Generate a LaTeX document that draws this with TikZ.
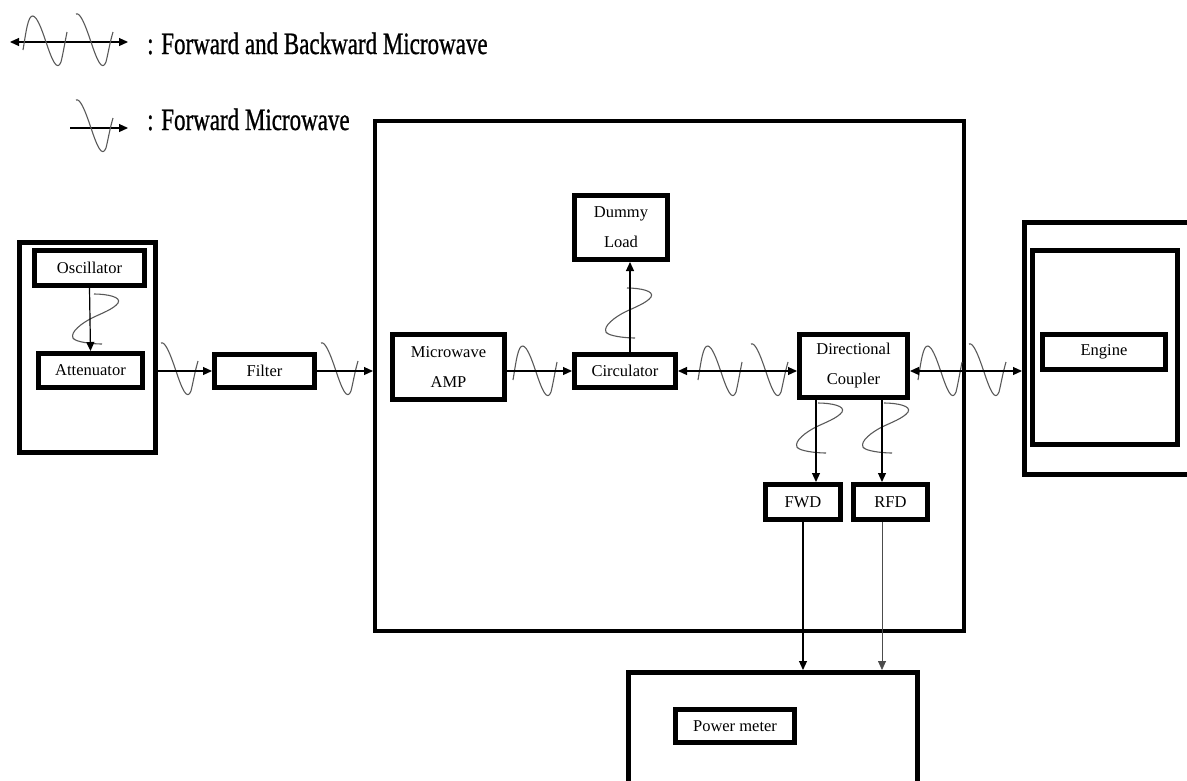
\documentclass[tikz,border=0pt]{standalone}
\usepackage{fontspec}
\setmainfont{Liberation Serif}
\newfontfamily\legfont[FakeBold=1]{Liberation Serif}
\usetikzlibrary{arrows.meta}
\begin{document}
\begin{tikzpicture}[x=1pt,y=-1pt,
  box/.style={draw,line width=5pt,rectangle,inner sep=0pt,fill=white,
    font=\fontsize{16.5}{30}\selectfont,align=center},
  bigbox/.style={draw,line width=5pt,rectangle,inner sep=0pt},
  legtext/.style={anchor=base west,inner sep=0pt,font=\legfont\fontsize{23}{26}\selectfont},
  arr/.style={line width=1.2pt,-{Triangle[length=9pt,width=8pt]}},
  thinarr/.style={line width=0.8pt,draw=black!70,-{Triangle[length=9pt,width=8pt]}},
  dbl/.style={line width=1.2pt,{Triangle[length=9pt,width=8pt]}-{Triangle[length=9pt,width=8pt]}},
  wave/.style={draw=black!65,line width=1.1pt},
  hw/.pic={\draw[wave] (-9,8) .. controls (-6,-10) and (-4,-27) .. (1,-26)
    .. controls (5,-25) and (9,-15) .. (14,0) .. controls (20,18) and (25,30) .. (29,20)
    .. controls (31,12) and (33,0) .. (35,-10);},
  hwp/.pic={\draw[wave] (0,-28) .. controls (4,-30) and (9,-18) .. (15,0)
    .. controls (21,18) and (26,30) .. (30,20) .. controls (32,12) and (34,0) .. (37,-10);},
  vw/.pic={\draw[wave] (2,0) .. controls (15,0) and (30,3) .. (26,9)
    .. controls (22,15) and (8,20) .. (0,24) .. controls (-10,29) and (-22,38) .. (-19,44)
    .. controls (-17,48) and (0,50) .. (10,50);}
]
\useasboundingbox (0,0) rectangle (1187,780);
\clip (0,0) rectangle (1187,780);

% ---------- legend ----------
\coordinate (la) at (10,42);
\coordinate (lb) at (128,42);
\coordinate (lc) at (70,128);
\coordinate (ld) at (128,128);
\draw[dbl] (la) -- (lb);
\pic at (32,42) {hw};
\pic at (76,42) {hwp};
\draw[arr] (lc) -- (ld);
\pic at (76,128) {hwp};
\node[legtext] (leg1) at (147,54) {\scalebox{1}[1.35]{: Forward and Backward Microwave}};
\node[legtext] (leg2) at (147,130) {\scalebox{1}[1.35]{: Forward Microwave}};

% ---------- outer boxes ----------
\node[bigbox,minimum width=136,minimum height=210] (leftbox) at (87.5,347.5) {};
\node[bigbox,line width=4pt,minimum width=589,minimum height=510] (main) at (669.5,376) {};
\node[bigbox,minimum width=173,minimum height=252] (engouter) at (1111,348.5) {};
\node[bigbox,line width=4.5pt,minimum width=145,minimum height=194] (enginner) at (1105,347.5) {};
\node[bigbox,minimum width=289,minimum height=125] (pmouter) at (773,735) {};

% ---------- waves ----------
\pic at (161,371) {hwp};
\pic at (321,371) {hwp};
\pic at (522,372) {hw};
\pic at (707,372) {hw};
\pic at (751,372) {hwp};
\pic at (927,372) {hw};
\pic at (969,372) {hwp};
\pic at (92,294) {vw};
\pic at (625,288) {vw};
\pic at (816,403) {vw};
\pic at (882,403) {vw};

% ---------- inner boxes ----------
\node[box,minimum width=110,minimum height=35] (osc) at (89.5,268) {Oscillator};
\node[box,minimum width=104,minimum height=34] (att) at (90.5,370.5) {Attenuator};
\node[box,minimum width=100,minimum height=33] (filter) at (264.5,371) {Filter};
\node[box,minimum width=112,minimum height=65] (amp) at (448.5,367) {Microwave\\AMP};
\node[box,minimum width=101,minimum height=33] (circ) at (625,371) {Circulator};
\node[box,minimum width=93,minimum height=64] (dummy) at (621,227.5) {Dummy\\Load};
\node[box,minimum width=108,minimum height=63] (coupler) at (853.5,366) {Directional\\Coupler};
\node[box,minimum width=75,minimum height=35] (fwd) at (803,502) {FWD};
\node[box,minimum width=74,minimum height=35] (rfd) at (890.5,502) {RFD};
\node[box,minimum width=123,minimum height=35] (engine) at (1104,352) {Engine};
\node[box,minimum width=119,minimum height=33] (pm) at (735,726) {Power meter};

% ---------- connectors ----------
\draw[arr] (osc.south) -- (att.north);
\draw[arr] (filter.west -| leftbox.east) -- (filter.west);
\draw[arr] (filter.east) -- (filter.east -| main.west);
\draw[arr] (circ.west -| amp.east) -- (circ.west);
\draw[arr] ([xshift=5pt]circ.north) -- ([xshift=5pt]circ.north |- dummy.south);
\draw[dbl] (circ.east) -- (circ.east -| coupler.west);
\draw[dbl] (circ.east -| coupler.east) -- (circ.east -| engouter.west);
\draw[arr] ([xshift=-37.5pt]coupler.south) -- ([xshift=-37.5pt]coupler.south |- fwd.north);
\draw[arr] ([xshift=28.5pt]coupler.south) -- ([xshift=28.5pt]coupler.south |- rfd.north);
\draw[arr] (fwd.south) -- (fwd.south |- pmouter.north);
\draw[thinarr] ([xshift=-8.5pt]rfd.south) -- ([xshift=-8.5pt]rfd.south |- pmouter.north);
\end{tikzpicture}
\end{document}
